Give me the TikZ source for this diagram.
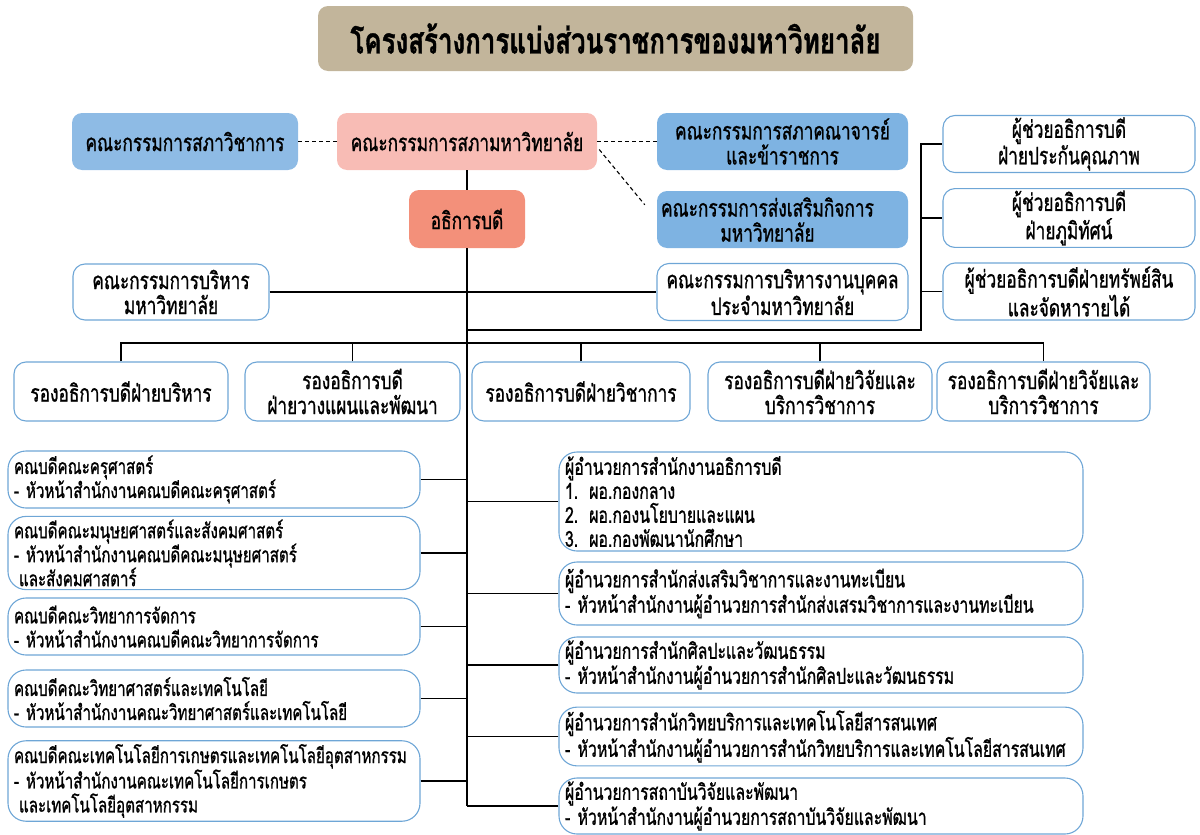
\documentclass[tikz,border=0pt]{standalone}
\usepackage{fontspec}
\usepackage{xcolor}
\usepackage{tikz}
\usetikzlibrary{shapes,positioning,calc}
\newfontfamily\thaifont[Script=Thai,FakeStretch=0.72,FakeBold=1]{Loma}
\definecolor{titletan}{HTML}{C2B59B}
\definecolor{lightblue}{HTML}{8EBBE5}
\definecolor{midblue}{HTML}{7EB3E2}
\definecolor{pinkfill}{HTML}{F8BCB5}
\definecolor{salmon}{HTML}{F3907A}
\definecolor{edgeblue}{HTML}{6EA6D6}

\begin{document}
\begin{tikzpicture}[x=1pt,y=-1pt,
    every node/.style={font=\thaifont\fontsize{24}{25}\selectfont},
    fillbox/.style={rectangle, rounded corners=10pt, align=center, inner sep=2pt},
    rbox/.style={rectangle, draw=edgeblue, line width=1.1pt, rounded corners=12pt, align=center, inner sep=2pt},
    listbox/.style={rectangle, draw=edgeblue, line width=1.1pt, rounded corners=18pt, align=left, inner xsep=6pt, text width=#1},
    link/.style={line width=1.4pt},
    dashlink/.style={line width=1.1pt, dash pattern=on 4pt off 3pt}]
    \useasboundingbox (0,0) rectangle (1200,835);

    \node (title) [fillbox, fill=titletan, minimum width=595, minimum height=65,
        font=\thaifont\bfseries\fontsize{36}{38}\selectfont] at (615.5,38.5) {โครงสร้างการแบ่งส่วนราชการของมหาวิทยาลัย};

    % top boards
    \node (acad) [fillbox, fill=lightblue, minimum width=226, minimum height=57] at (185,141.5) {คณะกรรมการสภาวิชาการ};
    \node (council) [fillbox, fill=pinkfill, minimum width=260, minimum height=57] at (467,141.5) {คณะกรรมการสภามหาวิทยาลัย};
    \node (senate) [fillbox, fill=midblue, minimum width=251, minimum height=57] at (782.5,141.5) {คณะกรรมการสภาคณาจารย์\\และข้าราชการ};
    \node (promo) [fillbox, fill=midblue, minimum width=251, minimum height=57] at (782.5,219.5) {คณะกรรมการส่งเสริมกิจการ\hspace*{30pt}\\มหาวิทยาลัย\hspace*{30pt}};
    \node (pres) [fillbox, fill=salmon, minimum width=116, minimum height=58] at (467,219) {อธิการบดี};

    % assistants
    \node (qa) [rbox, minimum width=252, minimum height=54] at (1069,144) {ผู้ช่วยอธิการบดี\\ฝ่ายประกันคุณภาพ};
    \node (land) [rbox, minimum width=252, minimum height=56] at (1069,218) {ผู้ช่วยอธิการบดี\\ฝ่ายภูมิทัศน์};
    \node (asset) [rbox, minimum width=252, minimum height=57] at (1069,291.5) {ผู้ช่วยอธิการบดีฝ่ายทรัพย์สิน\\และจัดหารายได้};

    \node (exec) [rbox, minimum width=196, minimum height=56] at (171,292) {คณะกรรมการบริหาร\\มหาวิทยาลัย};
    \node (personnel) [rbox, minimum width=251, minimum height=57] at (782.5,292) {คณะกรรมการบริหารงานบุคคล\\ประจำมหาวิทยาลัย};

    % vice presidents
    \node (vpadmin) [rbox, minimum width=214, minimum height=59] at (121,391.5) {รองอธิการบดีฝ่ายบริหาร};
    \node (vpplan) [rbox, minimum width=215, minimum height=59] at (352.5,391.5) {รองอธิการบดี\\ฝ่ายวางแผนและพัฒนา};
    \node (vpacad) [rbox, minimum width=218, minimum height=59] at (581,391.5) {รองอธิการบดีฝ่ายวิชาการ};
    \node (vpresone) [rbox, minimum width=224, minimum height=59] at (820,391.5) {รองอธิการบดีฝ่ายวิจัยและ\\บริการวิชาการ};
    \node (vprestwo) [rbox, minimum width=213, minimum height=59] at (1043.5,391.5) {รองอธิการบดีฝ่ายวิจัยและ\\บริการวิชาการ};

    % faculties
    \tikzset{every node/.style={font=\thaifont\fontsize{21}{24}\selectfont}}
    \node (educ) [listbox=400, minimum height=57] at (214,479.5) {คณบดีคณะครุศาสตร์\\- หัวหน้าสำนักงานคณบดีคณะครุศาสตร์};
    \node (human) [listbox=400, minimum height=72] at (214,553) {คณบดีคณะมนุษยศาสตร์และสังคมศาสตร์\\- หัวหน้าสำนักงานคณบดีคณะมนุษยศาสตร์\\\hspace*{5pt}และสังคมศาสตาร์};
    \node (mgmt) [listbox=400, minimum height=57] at (214,626.5) {คณบดีคณะวิทยาการจัดการ\\- หัวหน้าสำนักงานคณบดีคณะวิทยาการจัดการ};
    \node (sci) [listbox=400, minimum height=57] at (214,698.5) {คณบดีคณะวิทยาศาสตร์และเทคโนโลยี\\- หัวหน้าสำนักงานคณะวิทยาศาสตร์และเทคโนโลยี};
    \node (agri) [listbox=400, minimum height=78] at (214,781) {คณบดีคณะเทคโนโลยีการเกษตรและเทคโนโลยีอุตสาหกรรม\\- หัวหน้าสำนักงานคณะเทคโนโลยีการเกษตร\\\hspace*{5pt}และเทคโนโลยีอุตสาหกรรม};

    % offices
    \tikzset{every node/.style={font=\thaifont\fontsize{22}{24}\selectfont}}
    \node (presoff) [listbox=512, minimum height=99] at (821,501.5) {ผู้อำนวยการสำนักงานอธิการบดี\\1. ผอ.กองกลาง\\2. ผอ.กองนโยบายและแผน\\3. ผอ.กองพัฒนานักศึกษา};
    \node (regoff) [listbox=512, minimum height=63] at (821,593.5) {ผู้อำนวยการสำนักส่งเสริมวิชาการและงานทะเบียน\\- หัวหน้าสำนักงานผู้อำนวยการสำนักส่งเสรมวิชาการและงานทะเบียน};
    \node (artoff) [listbox=512, minimum height=56] at (821,665) {ผู้อำนวยการสำนักศิลปะและวัฒนธรรม\\- หัวหน้าสำนักงานผู้อำนวยการสำนักศิลปะและวัฒนธรรม};
    \node (itoff) [listbox=512, minimum height=55] at (821,736.5) {ผู้อำนวยการสำนักวิทยบริการและเทคโนโลยีสารสนเทศ\\- หัวหน้าสำนักงานผู้อำนวยการสำนักวิทยบริการและเทคโนโลยีสารสนเทศ};
    \node (rdoff) [listbox=512, minimum height=56] at (821,806) {ผู้อำนวยการสถาบันวิจัยและพัฒนา\\- หัวหน้าสำนักงานผู้อำนวยการสถาบันวิจัยและพัฒนา};

    \coordinate (bus) at (467,343);
    \coordinate (corner) at (921,330);

    % dashed links
    \draw [dashlink] (acad) -- (council);
    \draw [dashlink] (council) -- (senate);
    \draw [dashlink] ($(council.east)+(2,8)$) -- ($(promo.north west)+(-12,14)$);

    % main trunk
    \draw [link] (council) -- (pres);
    \draw [link] (pres.south) -- (pres.south |- rdoff.west);
    \draw [link] (exec) -- (personnel);
    \draw [link] (pres.south |- corner) -- (corner) -- (corner |- qa.west) -- (qa.west);
    \draw [link] (corner |- land.west) -- (land.west);
    \draw [link] (corner |- asset.west) -- (asset.west);
    \draw [link] (vpadmin.north) |- (bus) -| (vprestwo.north);
    \draw [link] (vpplan.north) -- (vpplan.north |- bus);
    \draw [link] (vpacad.north) -- (vpacad.north |- bus);
    \draw [link] (vpresone.north) -- (vpresone.north |- bus);

    % faculties and offices
    \draw [link] (educ.east) -- (educ.east -| bus);
    \draw [link] (human.east) -- (human.east -| bus);
    \draw [link] (mgmt.east) -- (mgmt.east -| bus);
    \draw [link] (sci.east) -- (sci.east -| bus);
    \draw [link] (agri.east) -- (agri.east -| bus);
    \draw [link] (presoff.west) -- (presoff.west -| bus);
    \draw [link] (regoff.west) -- (regoff.west -| bus);
    \draw [link] (artoff.west) -- (artoff.west -| bus);
    \draw [link] (itoff.west) -- (itoff.west -| bus);
    \draw [link] (rdoff.west) -- (rdoff.west -| bus);
\end{tikzpicture}
\end{document}
